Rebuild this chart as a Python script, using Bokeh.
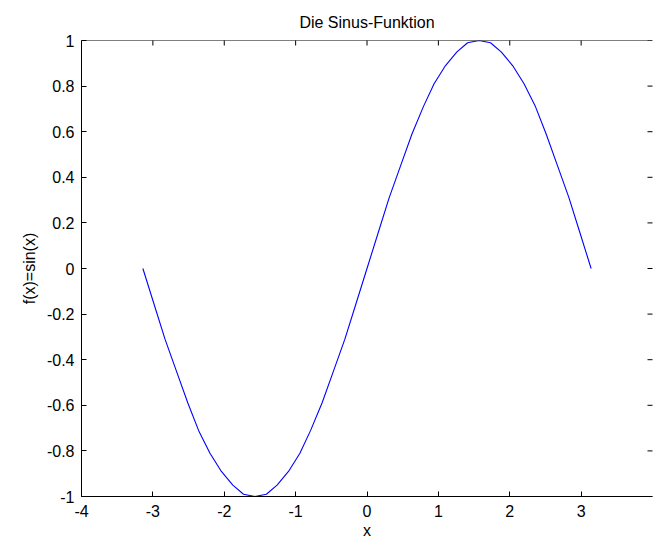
import math
from bokeh.plotting import figure
from bokeh.models import Range1d, FixedTicker, Span
from bokeh.embed import file_html
from bokeh.resources import INLINE

# values
x_vals = [-3.14, -2.98, -2.83, -2.67, -2.51, -2.36, -2.20, -2.04, -1.88, -1.73, -1.57,
          -1.41, -1.26, -1.10, -0.94, -0.79, -0.63, -0.47, -0.31, -0.16, 0.0,
          0.16, 0.31, 0.47, 0.63, 0.79, 0.94, 1.10, 1.26, 1.41, 1.57,
          1.73, 1.88, 2.04, 2.20, 2.36, 2.51, 2.67, 2.83, 2.98, 3.14]
y_vals = [0.0, -0.16, -0.31, -0.45, -0.59, -0.71, -0.81, -0.89, -0.95, -0.99, -1.0,
          -0.99, -0.95, -0.89, -0.81, -0.71, -0.59, -0.45, -0.31, -0.16, 0.0,
          0.16, 0.31, 0.45, 0.59, 0.71, 0.81, 0.89, 0.95, 0.99, 1.0,
          0.99, 0.95, 0.89, 0.81, 0.71, 0.59, 0.45, 0.31, 0.16, 0.0]
x_ticks = [-4, -3, -2, -1, 0, 1, 2, 3]
y_ticks = [-1, -0.8, -0.6, -0.4, -0.2, 0, 0.2, 0.4, 0.6, 0.8, 1]
x_min, x_max = -4, 4
y_min, y_max = -1, 1
title_text = "Die Sinus-Funktion"
x_label = "x"
y_label = "f(x)=sin(x)"

FONT = "Liberation Sans"
FS = "16px"

def fmt(v):
    return "%g" % v  # plain hyphen-minus as in the reference

p = figure(width=653, height=543, output_backend="svg", toolbar_location=None,
           x_range=Range1d(x_min, x_max), y_range=Range1d(y_min, y_max),
           min_border_left=81, min_border_right=1, min_border_top=40, min_border_bottom=47,
           title=title_text)
p.title.align = "center"
p.title.text_font = FONT
p.title.text_font_size = FS
p.title.text_font_style = "normal"
p.title.text_color = "black"
p.title.standoff = 19
p.outline_line_color = None
p.grid.visible = False
p.background_fill_color = "white"
p.border_fill_color = "white"

# top edge of the axes box
p.add_layout(Span(location=y_max, dimension="width", line_color="black", line_width=1))

p.line(x_vals, y_vals, line_color="#0000ff", line_width=1.1)

# inward ticks on the top and right edges (only the inner half is inside the frame)
p.scatter(x_ticks, [y_max] * len(x_ticks), marker="dash", angle=math.pi / 2,
          size=10, line_color="black", line_width=1)
p.scatter([x_max] * len(y_ticks), y_ticks, marker="dash",
          size=10, line_color="black", line_width=1)

def style(ax):
    ax.axis_line_color = "black"
    ax.major_tick_line_color = "black"
    ax.major_tick_in = 5
    ax.major_tick_out = 0
    ax.minor_tick_line_color = None
    ax.major_label_text_font = FONT
    ax.major_label_text_font_size = FS
    ax.major_label_text_color = "black"
    ax.axis_label_text_font = FONT
    ax.axis_label_text_font_size = FS
    ax.axis_label_text_font_style = "normal"
    ax.axis_label_text_color = "black"

xa = p.xaxis[0]
xa.ticker = FixedTicker(ticks=x_ticks)
xa.major_label_overrides = {t: fmt(t) for t in x_ticks}
xa.axis_label = x_label
style(xa)
xa.major_label_standoff = 8
xa.axis_label_standoff = 2

ya = p.yaxis[0]
ya.ticker = FixedTicker(ticks=y_ticks)
ya.major_label_overrides = {t: fmt(t) for t in y_ticks}
ya.axis_label = y_label
style(ya)
ya.major_label_standoff = 7
ya.axis_label_standoff = 6

open("out.html", "w").write(file_html(p, INLINE))
